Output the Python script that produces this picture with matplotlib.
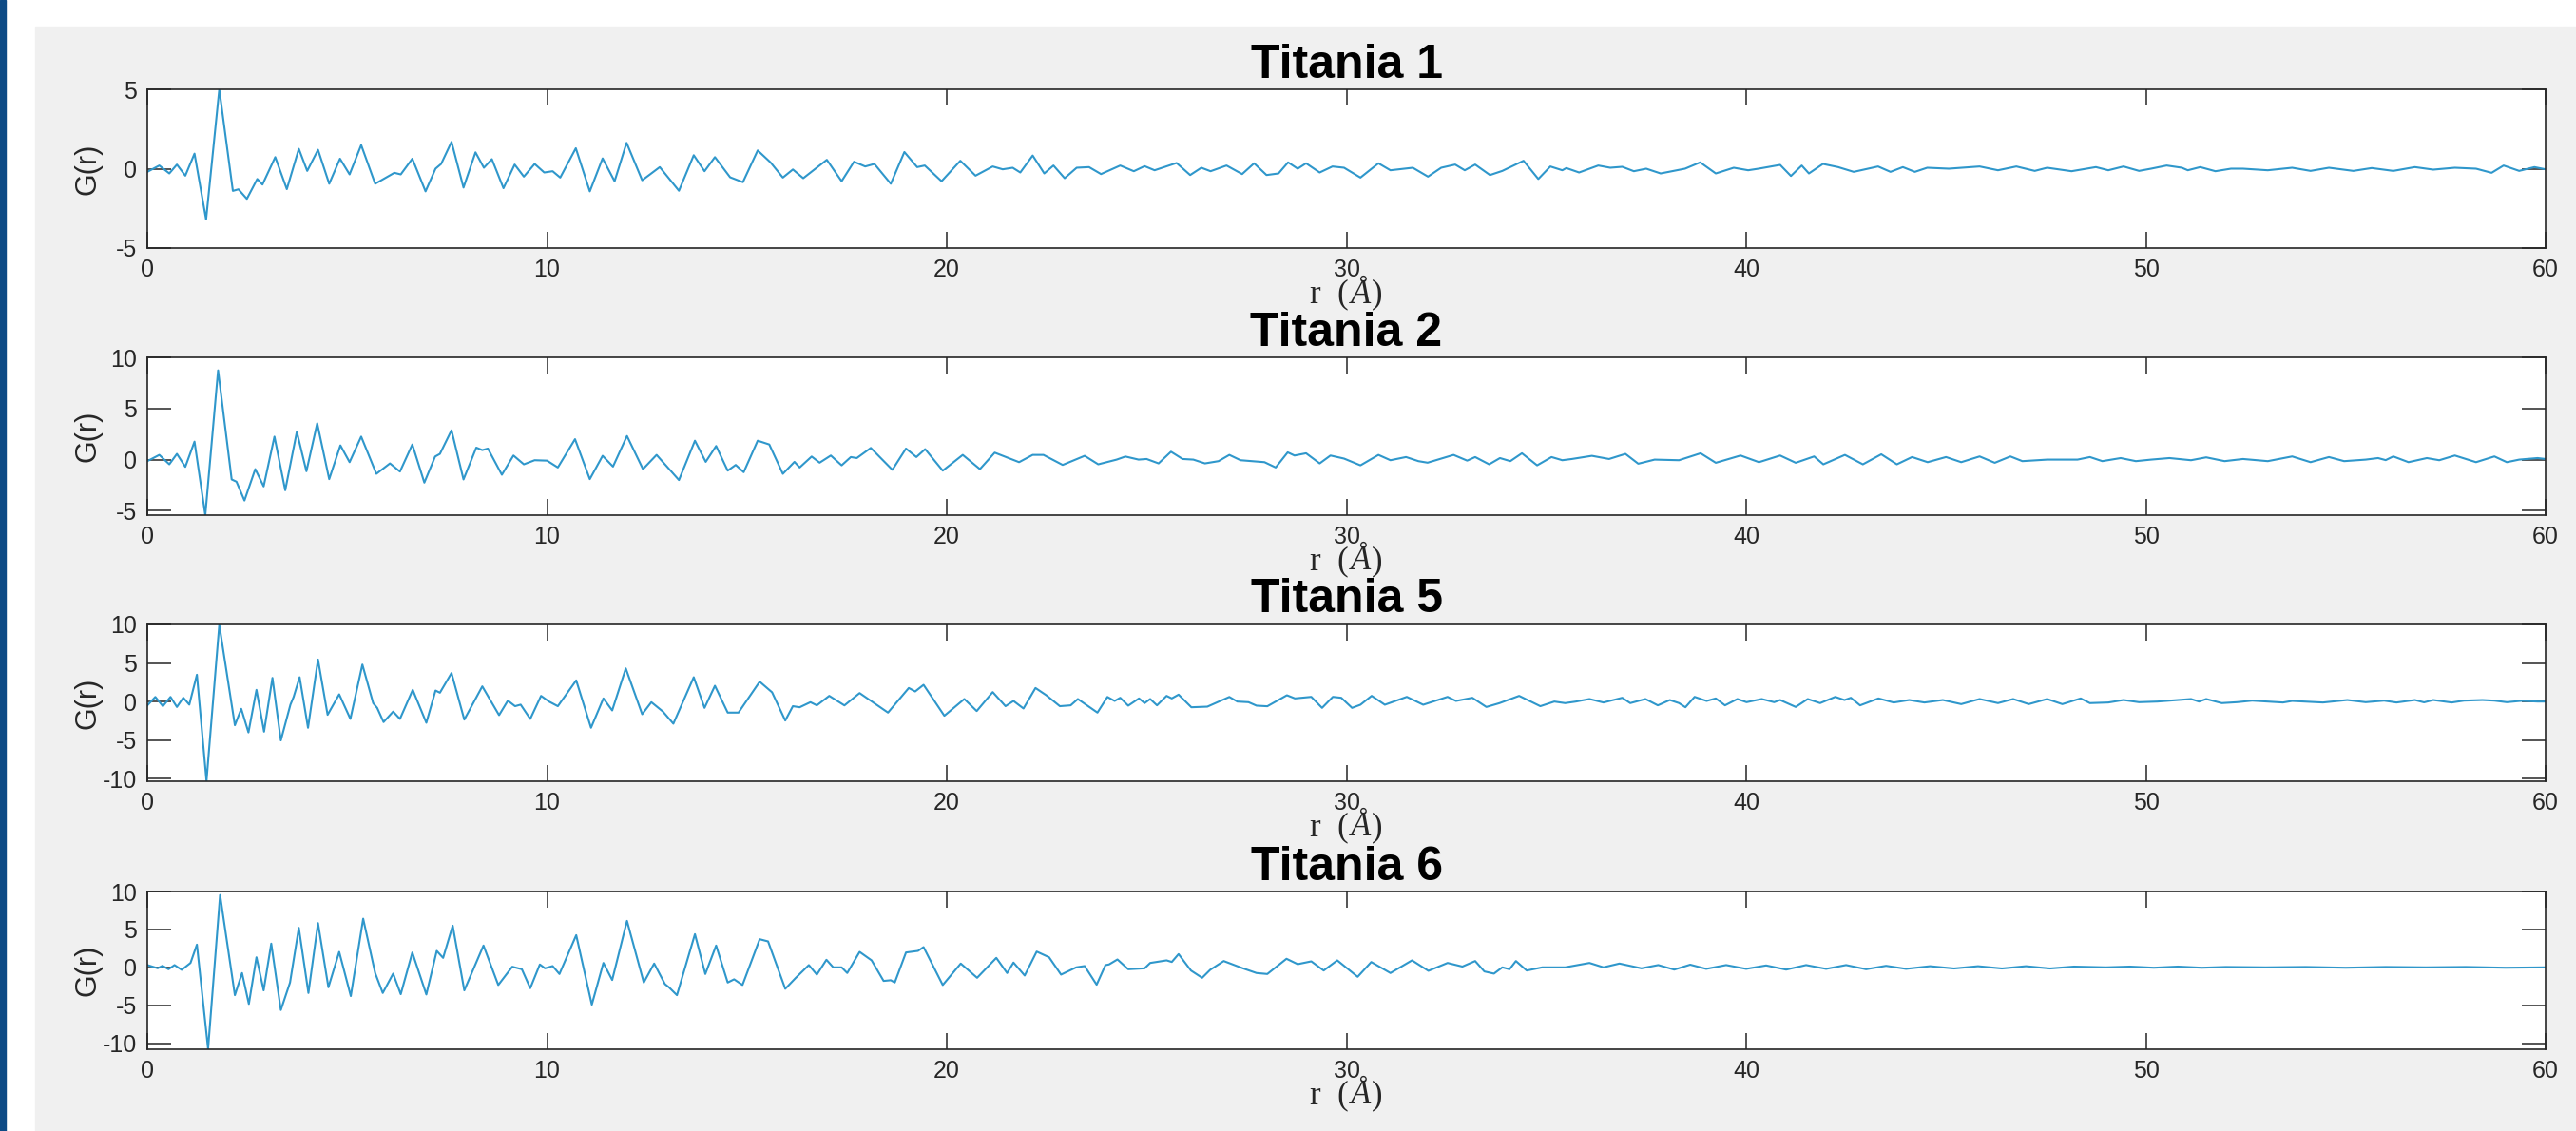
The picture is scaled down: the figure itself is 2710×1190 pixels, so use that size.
import numpy as np
import matplotlib.pyplot as plt
from matplotlib.patches import Rectangle
from matplotlib.offsetbox import TextArea, HPacker, AnchoredOffsetbox

plt.rcParams['font.family'] = ['Liberation Sans', 'DejaVu Sans']

# -----------------------------
# Data: (r, G(r)) extrema for each sample
# -----------------------------
titles = ["Titania 1", "Titania 2", "Titania 5", "Titania 6"]

titania_1 = np.array([
    (0, -0.2), (0.30, 0.2), (0.55, -0.3), (0.74, 0.26), (0.95, -0.44), (1.18, 0.95),
    (1.47, -3.2), (1.80, 5.0), (2.14, -1.4), (2.28, -1.3), (2.49, -1.9), (2.75, -0.65),
    (2.88, -1.0), (3.20, 0.73), (3.49, -1.29), (3.79, 1.25), (4.0, -0.14), (4.27, 1.19),
    (4.55, -0.95), (4.82, 0.63), (5.06, -0.36), (5.35, 1.49), (5.70, -0.95), (6.18, -0.26),
    (6.34, -0.36), (6.63, 0.63), (6.96, -1.43), (7.21, 0.0), (7.35, 0.3), (7.61, 1.69),
    (7.91, -1.19), (8.21, 1.03), (8.42, 0.06), (8.62, 0.6), (8.91, -1.23), (9.19, 0.26),
    (9.42, -0.5), (9.69, 0.3), (9.93, -0.24), (10.14, -0.16), (10.33, -0.56), (10.72, 1.29),
    (11.07, -1.43), (11.39, 0.65), (11.69, -0.79), (11.99, 1.63), (12.38, -0.73), (12.82, 0.1),
    (13.30, -1.39), (13.67, 0.85), (13.94, -0.16), (14.20, 0.73), (14.58, -0.54), (14.90, -0.85),
    (15.27, 1.15), (15.59, 0.4), (15.9, -0.56), (16.15, -0.05), (16.41, -0.6), (17.0, 0.56),
    (17.37, -0.79), (17.68, 0.44), (17.96, 0.14), (18.19, 0.3), (18.6, -0.95), (18.94, 1.05),
    (19.26, 0.1), (19.45, 0.2), (19.87, -0.79), (20.34, 0.5), (20.72, -0.44), (21.15, 0.14),
    (21.40, -0.04), (21.65, 0.06), (21.84, -0.24), (22.15, 0.83), (22.44, -0.3), (22.67, 0.2),
    (22.95, -0.6), (23.25, 0.06), (23.56, 0.1), (23.86, -0.34), (24.34, 0.2), (24.68, -0.16),
    (24.95, 0.16), (25.2, -0.1), (25.75, 0.36), (26.09, -0.4), (26.37, 0.06), (26.6, -0.16),
    (27.0, 0.2), (27.39, -0.34), (27.69, 0.34), (28.0, -0.4), (28.3, -0.3), (28.54, 0.4),
    (28.78, 0.0), (28.99, 0.34), (29.33, -0.24), (29.65, 0.14), (29.94, 0.06), (30.35, -0.56),
    (30.8, 0.34), (31.1, -0.1), (31.66, 0.06), (32.04, -0.5), (32.37, 0.06), (32.72, 0.26),
    (32.96, -0.1), (33.22, 0.26), (33.59, -0.4), (33.9, -0.14), (34.43, 0.5), (34.8, -0.65),
    (35.1, 0.14), (35.4, -0.1), (35.5, 0.04), (35.82, -0.24), (36.3, 0.2), (36.6, 0.06),
    (36.9, 0.12), (37.19, -0.16), (37.5, 0.0), (37.86, -0.3), (38.47, 0.0), (38.85, 0.4),
    (39.24, -0.3), (39.69, 0.06), (40.05, -0.1), (40.31, 0.0), (40.85, 0.24), (41.12, -0.46),
    (41.39, 0.2), (41.57, -0.3), (41.92, 0.3), (42.30, 0.1), (42.69, -0.2), (43.30, 0.14),
    (43.61, -0.2), (43.92, 0.1), (44.22, -0.2), (44.53, 0.06), (45.07, 0.0), (45.84, 0.14),
    (46.30, -0.1), (46.76, 0.14), (47.22, -0.14), (47.53, 0.06), (48.14, -0.16), (48.75, 0.1),
    (49.06, -0.1), (49.44, 0.14), (49.83, -0.14), (50.13, 0.0), (50.52, 0.2), (50.90, 0.06),
    (51.05, -0.1), (51.36, 0.1), (51.74, -0.16), (52.13, 0.0), (52.43, 0.0), (53.05, -0.1),
    (53.66, 0.06), (54.12, -0.14), (54.58, 0.06), (55.19, -0.14), (55.65, 0.04), (56.19, -0.14),
    (56.73, 0.1), (57.19, -0.06), (57.73, 0.06), (58.26, 0.0), (58.65, -0.26), (58.95, 0.2),
    (59.34, -0.14), (59.72, 0.1), (60.0, -0.04),
])

titania_2 = np.array([
    (0, -0.15), (0.30, 0.46), (0.55, -0.46), (0.74, 0.56), (0.95, -0.71), (1.18, 1.76),
    (1.45, -5.43), (1.77, 8.73), (2.11, -1.94), (2.23, -2.16), (2.43, -4.0), (2.70, -0.93),
    (2.91, -2.62), (3.18, 2.25), (3.45, -3.0), (3.74, 2.72), (3.98, -1.14), (4.25, 3.55),
    (4.55, -1.91), (4.83, 1.39), (5.06, -0.25), (5.35, 2.25), (5.73, -1.39), (6.07, -0.37),
    (6.32, -1.17), (6.63, 1.48), (6.93, -2.25), (7.20, 0.3), (7.32, 0.56), (7.61, 2.87),
    (7.91, -1.94), (8.23, 1.17), (8.38, 0.93), (8.52, 1.08), (8.87, -1.48), (9.16, 0.4),
    (9.42, -0.46), (9.69, -0.06), (10.0, -0.1), (10.27, -0.77), (10.70, 2.0), (11.07, -1.91),
    (11.39, 0.37), (11.65, -0.68), (12.0, 2.31), (12.40, -0.93), (12.74, 0.46), (13.30, -2.0),
    (13.70, 1.85), (13.97, -0.22), (14.23, 1.33), (14.52, -1.08), (14.72, -0.52), (14.92, -1.23),
    (15.27, 1.85), (15.56, 1.48), (15.9, -1.39), (16.19, -0.22), (16.32, -0.77), (16.62, 0.3),
    (16.82, -0.3), (17.1, 0.4), (17.37, -0.56), (17.6, 0.25), (17.75, 0.15), (18.1, 1.14),
    (18.64, -1.0), (18.98, 1.08), (19.24, 0.25), (19.46, 1.02), (19.9, -1.08), (20.4, 0.46),
    (20.83, -0.93), (21.2, 0.68), (21.55, 0.15), (21.81, -0.25), (22.15, 0.46), (22.42, 0.46),
    (22.9, -0.52), (23.45, 0.37), (23.79, -0.46), (24.25, 0.0), (24.47, 0.3), (24.8, 0.0),
    (25.0, 0.06), (25.3, -0.37), (25.61, 0.77), (25.9, 0.06), (26.17, 0.0), (26.46, -0.37),
    (26.8, -0.15), (27.07, 0.46), (27.35, -0.06), (27.62, -0.15), (27.95, -0.25), (28.23, -0.77),
    (28.53, 0.71), (28.7, 0.4), (28.99, 0.62), (29.33, -0.37), (29.6, 0.4), (29.94, 0.1),
    (30.35, -0.56), (30.8, 0.46), (31.1, -0.06), (31.49, 0.25), (31.8, -0.15), (32.03, -0.3),
    (32.68, 0.46), (33.02, -0.1), (33.22, 0.25), (33.57, -0.46), (33.84, 0.15), (34.1, -0.15),
    (34.39, 0.62), (34.77, -0.56), (35.13, 0.25), (35.4, -0.06), (35.64, 0.06), (36.14, 0.37),
    (36.57, 0.06), (36.98, 0.56), (37.3, -0.4), (37.71, 0.0), (38.32, -0.06), (38.86, 0.62),
    (39.24, -0.31), (39.86, 0.4), (40.32, -0.25), (40.85, 0.4), (41.24, -0.31), (41.70, 0.31),
    (41.93, -0.46), (42.47, 0.46), (42.92, -0.46), (43.38, 0.52), (43.77, -0.46), (44.15, 0.25),
    (44.54, -0.25), (45.0, 0.25), (45.38, -0.25), (45.84, 0.31), (46.22, -0.31), (46.61, 0.31),
    (46.91, -0.15), (47.53, 0.0), (48.29, 0.0), (48.6, 0.25), (48.91, -0.15), (49.37, 0.15),
    (49.75, -0.15), (50.13, 0.0), (50.59, 0.15), (51.13, -0.06), (51.51, 0.22), (51.97, -0.15),
    (52.43, 0.06), (53.05, -0.15), (53.66, 0.31), (54.12, -0.25), (54.58, 0.25), (54.96, -0.15),
    (55.5, 0.0), (55.81, 0.15), (56.0, -0.05), (56.19, 0.31), (56.57, -0.25), (57.03, 0.15),
    (57.34, -0.06), (57.73, 0.4), (58.26, -0.25), (58.72, 0.31), (59.03, -0.25), (59.34, 0.0),
    (59.8, 0.15), (60.0, 0.06),
])

titania_5 = np.array([
    (0, -0.5), (0.2, 0.6), (0.39, -0.6), (0.58, 0.6), (0.74, -0.7), (0.9, 0.5), (1.05, -0.4),
    (1.24, 3.48), (1.48, -10.3), (1.80, 9.96), (2.19, -3.07), (2.35, -0.94), (2.53, -4.0),
    (2.73, 1.52), (2.92, -3.9), (3.13, 3.07), (3.34, -5.04), (3.58, -0.4), (3.66, 0.6),
    (3.81, 3.16), (4.02, -3.4), (4.27, 5.45), (4.51, -1.72), (4.8, 0.94), (5.08, -2.25),
    (5.38, 4.8), (5.65, -0.2), (5.75, -0.82), (5.91, -2.66), (6.15, -1.3), (6.32, -2.25),
    (6.64, 1.52), (6.98, -2.75), (7.21, 1.43), (7.32, 1.15), (7.61, 3.7), (7.93, -2.34),
    (8.38, 1.97), (8.8, -1.76), (9.02, 0.12), (9.2, -0.6), (9.34, -0.4), (9.58, -2.25),
    (9.85, 0.74), (10.05, 0.0), (10.27, -0.6), (10.73, 2.75), (11.1, -3.4), (11.41, 0.41),
    (11.63, -1.15), (11.97, 4.3), (12.38, -1.64), (12.61, -0.08), (12.9, -1.3), (13.16, -2.87),
    (13.67, 3.16), (13.94, -0.82), (14.20, 2.05), (14.52, -1.43), (14.79, -1.43), (15.32, 2.58),
    (15.63, 1.2), (15.96, -2.46), (16.15, -0.6), (16.32, -0.74), (16.59, -0.08), (16.75, -0.49),
    (17.06, 0.74), (17.44, -0.5), (17.82, 1.1), (18.53, -1.43), (19.05, 1.76), (19.21, 1.31),
    (19.42, 2.17), (19.94, -1.84), (20.44, 0.33), (20.75, -1.23), (21.15, 1.23), (21.47, -0.6),
    (21.67, 0.08), (21.92, -0.9), (22.22, 1.76), (22.49, 0.82), (22.83, -0.6), (23.1, -0.49),
    (23.28, 0.33), (23.77, -1.43), (24.02, 0.6), (24.2, 0.08), (24.34, 0.49), (24.54, -0.53),
    (24.81, 0.41), (24.95, -0.2), (25.09, 0.33), (25.26, -0.49), (25.5, 0.74), (25.63, 0.41),
    (25.8, 0.9), (26.12, -0.74), (26.52, -0.66), (27.07, 0.6), (27.27, 0.0), (27.55, -0.08),
    (27.75, -0.53), (28.02, -0.61), (28.51, 0.82), (28.71, 0.41), (29.12, 0.61), (29.39, -0.82),
    (29.66, 0.61), (29.87, 0.49), (30.14, -0.82), (30.35, -0.41), (30.63, 0.74), (30.96, -0.41),
    (31.51, 0.61), (31.92, -0.41), (32.53, 0.61), (32.74, 0.08), (33.15, 0.49), (33.5, -0.7),
    (33.83, -0.2), (34.32, 0.74), (34.85, -0.6), (35.2, 0.0), (35.47, -0.2), (35.74, 0.0),
    (36.08, 0.33), (36.43, -0.12), (36.9, 0.49), (37.1, -0.2), (37.48, 0.33), (37.79, -0.49),
    (38.09, 0.2), (38.32, -0.2), (38.48, -0.74), (38.71, 0.61), (39.01, 0.08), (39.24, 0.41),
    (39.47, -0.49), (39.78, 0.33), (40.01, -0.08), (40.39, 0.33), (40.7, -0.08), (40.85, 0.2),
    (41.24, -0.7), (41.54, 0.33), (41.85, -0.2), (42.23, 0.61), (42.46, 0.2), (42.62, 0.49),
    (42.85, -0.49), (43.31, 0.41), (43.69, -0.12), (44.08, 0.2), (44.46, -0.12), (44.92, 0.2),
    (45.38, -0.33), (45.84, 0.33), (46.3, -0.2), (46.68, 0.33), (47.07, -0.33), (47.53, 0.33),
    (47.91, -0.33), (48.37, 0.41), (48.6, -0.2), (49.06, -0.12), (49.44, 0.2), (49.83, -0.08),
    (50.29, 0.0), (51.13, 0.33), (51.33, 0.0), (51.51, 0.33), (51.9, -0.2), (52.28, -0.08),
    (52.66, 0.12), (53.05, 0.0), (53.43, -0.12), (53.66, 0.08), (53.97, 0.0), (54.43, -0.12),
    (55.04, 0.2), (55.5, -0.08), (55.96, 0.12), (56.27, -0.12), (56.73, 0.2), (56.96, -0.1),
    (57.19, 0.2), (57.65, -0.12), (57.96, 0.12), (58.42, 0.2), (58.72, 0.12), (59.03, -0.08),
    (59.41, 0.1), (59.8, 0.0), (60.0, 0.0),
])

titania_6 = np.array([
    (0, 0.3), (0.26, -0.12), (0.38, 0.2), (0.53, -0.25), (0.68, 0.3), (0.86, -0.33),
    (1.08, 0.58), (1.24, 3.0), (1.52, -10.75), (1.82, 9.54), (2.19, -3.67), (2.37, -0.75),
    (2.54, -4.83), (2.73, 1.33), (2.91, -3.04), (3.10, 3.13), (3.34, -5.63), (3.57, -2.0),
    (3.79, 5.21), (4.03, -3.38), (4.27, 5.83), (4.53, -2.63), (4.80, 2.04), (5.09, -3.79),
    (5.40, 6.42), (5.70, -0.75), (5.89, -3.38), (6.15, -0.83), (6.34, -3.54), (6.63, 1.96),
    (6.98, -3.58), (7.24, 2.17), (7.40, 1.25), (7.64, 5.5), (7.93, -3.04), (8.41, 2.88),
    (8.78, -2.33), (9.13, 0.08), (9.37, -0.25), (9.58, -2.75), (9.82, 0.38), (9.95, -0.13),
    (10.14, 0.17), (10.31, -0.88), (10.73, 4.25), (11.12, -4.92), (11.41, 0.58), (11.63, -1.67),
    (12.0, 6.13), (12.42, -2.0), (12.68, 0.5), (12.95, -2.21), (13.05, -2.63), (13.25, -3.67),
    (13.70, 4.38), (13.96, -0.88), (14.23, 2.88), (14.52, -2.0), (14.68, -1.58), (14.89, -2.33),
    (15.32, 3.71), (15.53, 3.42), (15.96, -2.83), (16.22, -1.4), (16.55, 0.3), (16.75, -0.96),
    (16.99, 1.0), (17.16, 0.0), (17.37, 0.0), (17.51, -0.75), (17.82, 2.04), (18.12, 0.92),
    (18.42, -1.79), (18.6, -1.7), (18.7, -2.0), (18.98, 1.96), (19.28, 2.17), (19.42, 2.67),
    (19.9, -2.33), (20.35, 0.5), (20.76, -1.38), (21.24, 1.25), (21.51, -0.75), (21.67, 0.63),
    (21.95, -1.08), (22.25, 2.08), (22.56, 1.33), (22.86, -0.96), (23.24, 0.0), (23.45, 0.17),
    (23.75, -2.29), (23.97, 0.29), (24.06, 0.38), (24.27, 1.04), (24.54, -0.25), (24.95, -0.13),
    (25.09, 0.58), (25.5, 0.92), (25.63, 0.71), (25.8, 1.75), (26.11, -0.42), (26.39, -1.38),
    (26.59, -0.33), (26.93, 0.83), (27.41, -0.13), (27.75, -0.75), (28.02, -0.88), (28.5, 1.13),
    (28.78, 0.42), (29.12, 0.79), (29.43, -0.42), (29.77, 0.92), (30.28, -1.25), (30.62, 0.7),
    (31.1, -0.75), (31.64, 0.92), (32.05, -0.46), (32.53, 0.58), (32.9, 0.1), (33.22, 0.83),
    (33.45, -0.54), (33.69, -0.83), (33.9, 0.0), (34.08, -0.25), (34.24, 0.83), (34.51, -0.42),
    (34.9, 0.0), (35.13, 0.0), (35.47, 0.0), (36.08, 0.58), (36.43, 0.0), (36.83, 0.5),
    (37.38, -0.13), (37.8, 0.3), (38.2, -0.3), (38.6, 0.35), (39.0, -0.2), (39.5, 0.3),
    (40.0, -0.2), (40.5, 0.25), (41.0, -0.3), (41.5, 0.3), (42.0, -0.2), (42.5, 0.3),
    (43.0, -0.25), (43.5, 0.2), (44.0, -0.2), (44.6, 0.15), (45.2, -0.15), (45.8, 0.15),
    (46.4, -0.15), (47.0, 0.15), (47.6, -0.15), (48.2, 0.1), (49.0, 0.0), (49.6, 0.1),
    (50.2, -0.05), (50.8, 0.1), (51.4, -0.05), (52.0, 0.05), (53.0, 0.0), (54.0, 0.05),
    (55.0, -0.05), (56.0, 0.05), (57.0, 0.0), (58.0, 0.05), (59.0, -0.05), (60.0, 0.0),
])

series = [titania_1, titania_2, titania_5, titania_6]
ylims = [(-5, 5), (-5.43, 10), (-10.33, 10), (-10.8, 10)]
yticks = [[-5, 0, 5], [-5, 0, 5, 10], [-10, -5, 0, 5, 10], [-10, -5, 0, 5, 10]]
xticks = [0, 10, 20, 30, 40, 50, 60]

# -----------------------------
# Figure / layout (pixel geometry of the reference, 2710 x 1190)
# -----------------------------
W, H = 2710, 1190
fig = plt.figure(figsize=(W / 100, H / 100), dpi=100)
fig.patch.set_facecolor("white")
fig.patches.append(Rectangle((37 / W, 0), 1 - 37 / W, 1 - 28 / H,
                             transform=fig.transFigure, color="#F0F0F0", zorder=-10))
fig.patches.append(Rectangle((0, 0), 6 / W, 1, transform=fig.transFigure,
                             color="#0D4A85", zorder=-9))

ax_left, ax_right = 155, 2678
ax_tops = [94, 376, 657, 938]
ax_bottoms = [261, 542, 822, 1104]

line_color = "#2F97CB"
dark = "#262626"
serif = dict(family="Liberation Serif", size=25, color=dark)
angstrom = "\u00c5"  # precomposed A-ring

for i, data in enumerate(series):
    ax = fig.add_axes([ax_left / W, 1 - ax_bottoms[i] / H,
                       (ax_right - ax_left) / W, (ax_bottoms[i] - ax_tops[i]) / H])
    ax.plot(data[:, 0], data[:, 1], color=line_color, lw=1.5, solid_joinstyle="round")
    ax.set_xlim(0, 60)
    ax.set_ylim(*ylims[i])
    ax.set_xticks(xticks)
    ax.set_yticks(yticks[i])
    ax.set_yticklabels([str(t) for t in yticks[i]])

    ax.tick_params(direction="in", top=True, right=True, labelsize=18,
                   colors=dark, width=1.1)
    ax.tick_params(axis="x", length=12, pad=8)
    ax.tick_params(axis="y", length=18, pad=8)
    for s in ax.spines.values():
        s.set_color(dark)
        s.set_linewidth(1.2)

    ax.set_title(titles[i], fontsize=36, fontweight="bold", pad=9, color="black")
    ax.set_ylabel("G(r)", fontsize=22, color=dark)
    ax.yaxis.set_label_coords(-0.019, 0.5)

    # x label "r (Å)": upright r and brackets, italic Å
    label = HPacker(children=[TextArea("r  (", textprops=serif),
                              TextArea(angstrom, textprops=dict(serif, style="italic")),
                              TextArea(")", textprops=serif)],
                    align="baseline", pad=0, sep=1)
    box = AnchoredOffsetbox(loc="upper center", child=label, pad=0, borderpad=0,
                            frameon=False, bbox_to_anchor=(0.5, -0.195),
                            bbox_transform=ax.transAxes)
    ax.add_artist(box)

fig.savefig("out.png", dpi=100, facecolor=fig.get_facecolor())
